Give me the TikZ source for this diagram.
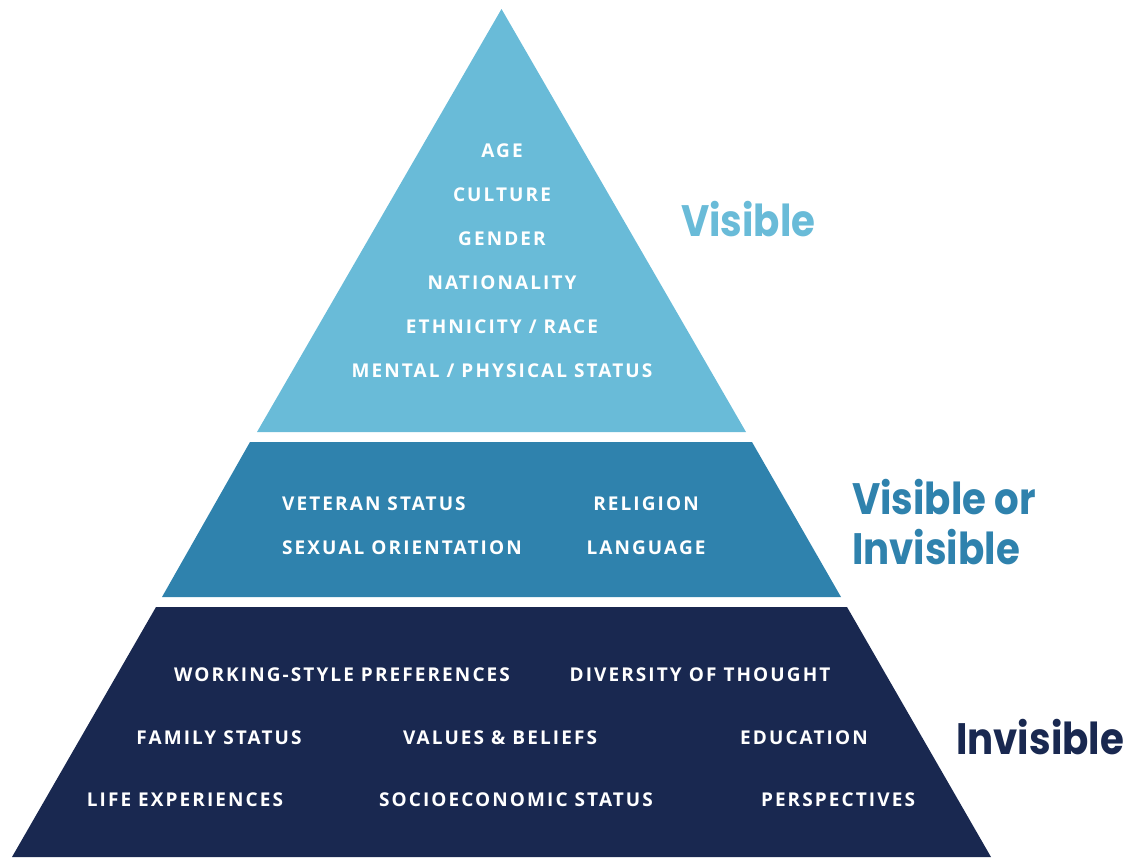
\documentclass[tikz,border=0pt]{standalone}
\usepackage{fontspec}
\setmainfont{Poppins}
\newfontfamily\labelfont[LetterSpace=11]{Open Sans}
\newfontfamily\tierfont[FakeStretch=0.88]{Poppins}
\definecolor{toplayer}{HTML}{69BBD8}
\definecolor{midlayer}{HTML}{2F82AD}
\definecolor{baselayer}{HTML}{192850}
\tikzset{
    item/.style={text=white, font=\labelfont\bfseries\fontsize{19}{21}\selectfont, inner sep=0pt},
    tier/.style={font=\tierfont\bfseries\fontsize{44}{50}\selectfont, anchor=west, inner sep=0pt, align=left}
}
\begin{document}
\begin{tikzpicture}[x=1pt, y=-1pt]
    \useasboundingbox (0,0) rectangle (1129,857);

    % Three layers of the pyramid
    \fill[toplayer] (501.5,9) -- (746,432) -- (257,432) -- cycle;
    \fill[midlayer] (250,442) -- (752,442) -- (841,597) -- (162,597) -- cycle;
    \fill[baselayer] (156,607) -- (847,607) -- (991,857) -- (12,857) -- cycle;

    % Visible traits
    \foreach \y/\name/\txt in {151/age/AGE, 195/culture/CULTURE, 239/gender/GENDER,
        283/nation/NATIONALITY, 327/ethnic/{ETHNICITY / RACE},
        371/status/{MENTAL / PHYSICAL STATUS}} {
        \node[item] (\name) at (502,\y) {\txt};
    }

    % Visible or invisible traits
    \node[item, anchor=west] (veteran) at (282,504) {VETERAN STATUS};
    \node[item, anchor=west] (sexual) at (282,548) {SEXUAL ORIENTATION};
    \node[item] (religion) at (646,504) {RELIGION};
    \node[item] (language) at (646,548) {LANGUAGE};

    % Invisible traits
    \node[item] (working) at (342,675) {WORKING-STYLE PREFERENCES};
    \node[item] (thought) at (700,675) {DIVERSITY OF THOUGHT};
    \node[item] (family) at (219,738) {FAMILY STATUS};
    \node[item] (values) at (500,738) {VALUES \& BELIEFS};
    \node[item] (education) at (804,738) {EDUCATION};
    \node[item] (life) at (185,800) {LIFE EXPERIENCES};
    \node[item] (socio) at (516,800) {SOCIOECONOMIC STATUS};
    \node[item] (persp) at (838,800) {PERSPECTIVES};

    % Tier names
    \node[tier, text=toplayer] (visible) at (681,219) {Visible};
    \node[tier, text=midlayer] (either) at (852,522) {Visible or\\Invisible};
    \node[tier, text=baselayer] (invisible) at (956,737) {Invisible};
\end{tikzpicture}
\end{document}
